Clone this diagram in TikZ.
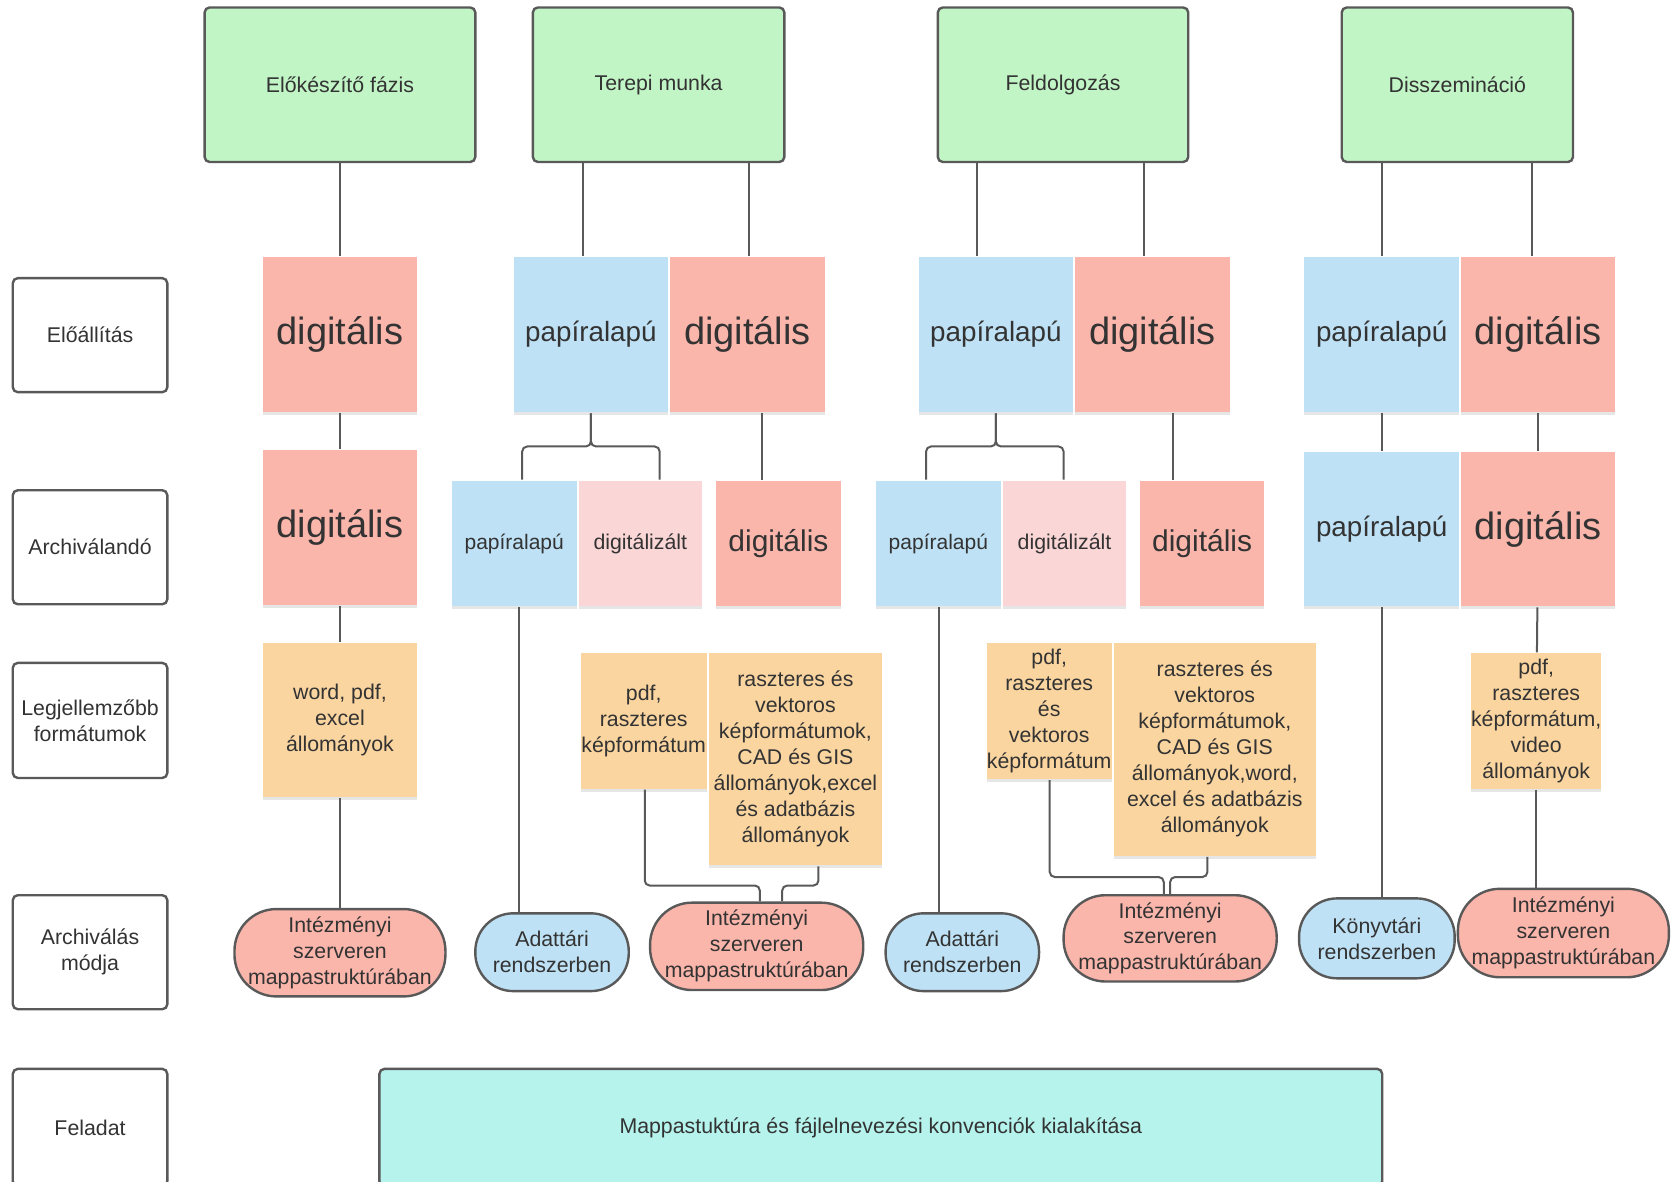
\documentclass[tikz,border=0pt]{standalone}
\usepackage{fontspec}
\setmainfont{Liberation Sans}
\usetikzlibrary{positioning,shadows}
\newcommand{\px}{0.5329pt}
\definecolor{fazis}{HTML}{C2F5C6}
\definecolor{digit}{HTML}{FBB6AC}
\definecolor{papir}{HTML}{BEE1F5}
\definecolor{digiz}{HTML}{FBD6D6}
\definecolor{format}{HTML}{FAD5A0}
\definecolor{feladat}{HTML}{B5F3EC}
\definecolor{keret}{HTML}{595959}
\definecolor{betu}{HTML}{333333}
\begin{document}
\begin{tikzpicture}[x=\px, y=-\px, color=keret, text=betu, line width=1pt,
    font=\fontsize{10.66}{13}\selectfont,
    sz/.style 2 args = {minimum width=#1*\px, minimum height=#2*\px},
    rc/.style = {rounded corners=2.5pt},
    box/.style = {draw=keret, line width=1.2pt, rounded corners=2.5pt, inner sep=0pt, align=center},
    phase/.style = {box, fill=fazis},
    rowlabel/.style = {box, fill=white},
    note/.style = {inner sep=0pt, align=center,
        drop shadow={shadow xshift=0pt, shadow yshift=-1.5pt, opacity=.2}},
    dig/.style = {note, fill=digit, font=\fontsize{19}{23}\selectfont},
    digk/.style = {dig, font=\fontsize{15}{18}\selectfont},
    pap/.style = {note, fill=papir, font=\fontsize{13.9}{17}\selectfont},
    papk/.style = {pap, font=\fontsize{10.5}{13}\selectfont},
    diz/.style = {note, fill=digiz},
    fmt/.style = {note, fill=format},
    mod/.style = {draw=keret, line width=1.2pt, inner sep=0pt, align=center},
    mpink/.style = {mod, fill=digit, rounded corners=21pt},
    mblue/.style = {mod, fill=papir, rounded corners=19pt}]
\useasboundingbox (0,0) rectangle (1568,1109);

\node[phase, sz={254}{145}] (f1) at (319,79.5) {Előkészítő fázis};
\node[phase, sz={236}{145}] (f2) at (618,79.5) {Terepi munka};
\node[phase, sz={235}{145}] (f3) at (997.5,79.5) {Feldolgozás};
\node[phase, sz={217}{145}] (f4) at (1367.5,79.5) {Disszemináció};

\node[rowlabel, sz={145}{107}] (r1) at (84.5,314.5) {Előállítás};
\node[rowlabel, sz={145}{107}] (r2) at (84.5,513.5) {Archiválandó};
\node[rowlabel, sz={145}{108}] (r3) at (84.5,676) {Legjellemzőbb\\formátumok};
\node[rowlabel, sz={145}{107}] (r4) at (84.5,893.5) {Archiválás\\módja};
\node[rowlabel, sz={145}{110}] (r5) at (84.5,1058) {Feladat};

\node[dig, sz={144}{146}] (e1) at (319,314) {digitális};
\node[pap, sz={145}{146}] (e2p) at (554.5,314) {papíralapú};
\node[dig, sz={145}{146}, right=0pt of e2p] (e2d) {digitális};
\node[pap, sz={145}{146}] (e3p) at (934.5,314) {papíralapú};
\node[dig, sz={145}{146}, right=0pt of e3p] (e3d) {digitális};
\node[pap, sz={145}{146}] (e4p) at (1296.5,314) {papíralapú};
\node[dig, sz={145}{146}, right=0pt of e4p] (e4d) {digitális};

\node[dig, sz={144}{146}] (a1) at (319,495) {digitális};
\node[papk, sz={117}{118}] (a2p) at (482.5,510) {papíralapú};
\node[diz, sz={116}{118}, right=0pt of a2p] (a2z) {digitálizált};
\node[digk, sz={117}{118}] (a2d) at (730.5,510) {digitális};
\node[papk, sz={117}{118}] (a3p) at (880.5,510) {papíralapú};
\node[diz, sz={116}{118}, right=0pt of a3p] (a3z) {digitálizált};
\node[digk, sz={117}{118}] (a3d) at (1128,510) {digitális};
\node[pap, sz={145}{145}] (a4p) at (1296.5,496.5) {papíralapú};
\node[dig, sz={145}{145}, right=0pt of a4p] (a4d) {digitális};

\node[fmt, sz={144}{145}] (l1) at (319,675.5) {word, pdf,\\excel\\állományok};
\node[fmt, sz={118}{127}] (l2a) at (604,676.5) {pdf,\\raszteres\\képformátum};
\node[fmt, sz={163}{199}, anchor=north west] (l2b) at (l2a.north east)
    {raszteres és\\vektoros\\képformátumok,\\CAD és GIS\\állományok,excel\\és adatbázis\\állományok};
\node[fmt, sz={117}{128}] (l3a) at (984.5,667) {pdf,\\raszteres\\és\\vektoros\\képformátum};
\node[fmt, sz={190}{200}, anchor=north west] (l3b) at (l3a.north east)
    {raszteres és\\vektoros\\képformátumok,\\CAD és GIS\\állományok,word,\\excel és adatbázis\\állományok};
\node[fmt, sz={117}{127}] (l4) at (1441.5,676.5) {pdf,\\raszteres\\képformátum,\\video\\állományok};

\node[mpink, sz={198}{82}] (v1) at (319,894) {Intézményi\\szerveren\\mappastruktúrában};
\node[mblue, sz={144}{73}] (v2a) at (518,893.5) {Adattári\\rendszerben};
\node[mpink, sz={200}{82}] (v2b) at (710,888) {Intézményi\\szerveren\\mappastruktúrában};
\node[mblue, sz={144}{73}] (v3a) at (903,893.5) {Adattári\\rendszerben};
\node[mpink, sz={200}{81}] (v3b) at (1098,880.5) {Intézményi\\szerveren\\mappastruktúrában};
\node[mblue, sz={146}{75}] (v4a) at (1292,880.5) {Könyvtári\\rendszerben};
\node[mpink, sz={198}{83}] (v4b) at (1467,875.5) {Intézményi\\szerveren\\mappastruktúrában};

\node[box, fill=feladat, sz={941}{110}] (t) at (826.5,1058)
    {Mappastuktúra és fájlelnevezési konvenciók kialakítása};

\draw (f1) -- (e1);
\draw (e1) -- (a1);
\draw (a1) -- (l1);
\draw (l1) -- (v1);

\draw (f2.south -| 547,0) -- (e2p.north -| 547,0);
\draw (f2.south -| 703,0) -- (e2d.north -| 703,0);
\draw[rc] (e2p.south) -- ++(0,31) -| (a2p.north -| 490,0);
\draw[rc] (e2p.south) -- ++(0,31) -| (a2z.north -| 619,0);
\draw (e2d.south -| 715,0) -- (a2d.north -| 715,0);
\draw (a2p.south -| 487,0) -- (v2a.north -| 487,0);
\draw[rc] (l2a.south -| 605,0) -- ++(0,90) -| (v2b.north -| 713,0);
\draw[rc] (l2b.south -| 768,0) -- ++(0,18) -| (v2b.north -| 734,0);

\draw (f3.south -| 917,0) -- (e3p.north -| 917,0);
\draw (f3.south -| 1073,0) -- (e3d.north -| 1073,0);
\draw[rc] (e3p.south) -- ++(0,31) -| (a3p.north -| 869,0);
\draw[rc] (e3p.south) -- ++(0,31) -| (a3z.north -| 998,0);
\draw (e3d.south -| 1101,0) -- (a3d.north -| 1101,0);
\draw (a3p.south -| 881,0) -- (v3a.north -| 881,0);
\draw[rc] (l3a.south -| 985,0) -- ++(0,91) -| (v3b.north -| 1092,0);
\draw[rc] (l3b.south -| 1133,0) -- ++(0,19) -| (v3b.north -| 1098,0);

\draw (f4.south -| e4p) -- (e4p);
\draw (f4.south -| 1438,0) -- (e4d.north -| 1438,0);
\draw (e4p) -- (a4p);
\draw (e4d) -- (a4d);
\draw (a4p.south) -- (a4p.south |- v4a.north);
\draw (a4d) -- (l4);
\draw (l4.south) -- (l4.south |- v4b.north);
\end{tikzpicture}
\end{document}
